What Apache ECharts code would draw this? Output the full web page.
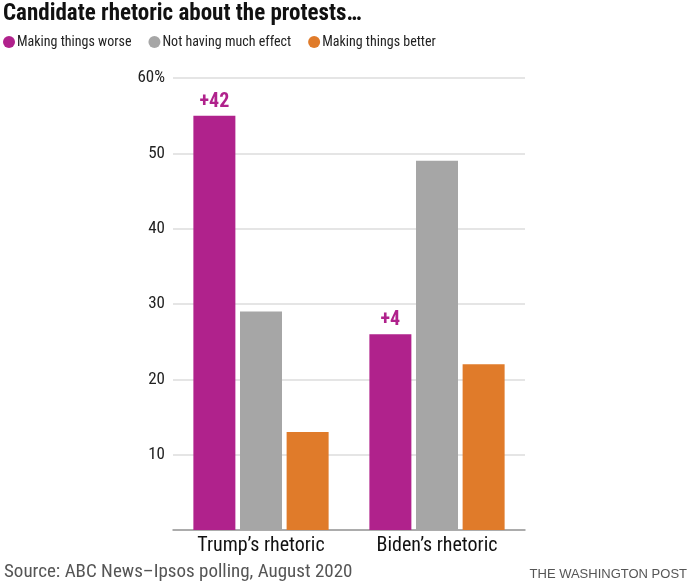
<!DOCTYPE html>
<html><head><meta charset="utf-8">
<script src="https://cdn.jsdelivr.net/npm/echarts@6/dist/echarts.min.js"></script>
<style>html,body{margin:0;padding:0;background:#fff}#c{width:691px;height:584px}</style>
</head><body><div id="c"></div>
<script>
const categories = ["Trump’s rhetoric", "Biden’s rhetoric"];
const seriesNames = ["Making things worse", "Not having much effect", "Making things better"];
const worse = [55, 26];
const noEffect = [29, 49];
const better = [13, 22];
const diffLabels = ["+42", "+4"];
const yTicks = [10, 20, 30, 40, 50, 60];
const colors = ["#B0228C", "#A6A6A6", "#E07B2A"];

const font = "'Roboto Condensed', 'Liberation Sans', sans-serif";
const wide = "'Liberation Sans', sans-serif";
const chart = echarts.init(document.getElementById('c'), null, {renderer: 'canvas'});
chart.setOption({
  animation: false,
  textStyle: {fontFamily: font},
  title: [
    {text: 'Candidate rhetoric about the protests…', left: 3, top: 3, padding: 0,
     textStyle: {fontFamily: font, fontWeight: 'bold', fontSize: 23, color: '#111'}},
    {text: 'Source: ABC News–Ipsos polling, August 2020', left: 4, top: 563, padding: 0,
     textStyle: {fontFamily: font, fontWeight: 'normal', fontSize: 19, color: '#555'}},
    {text: 'THE WASHINGTON POST', right: 4, top: 568, padding: 0,
     textStyle: {fontFamily: wide, fontWeight: 'normal', fontSize: 13, color: '#555'}}
  ],
  legend: {
    left: 3, top: 35, padding: 0, icon: 'circle', itemWidth: 12, itemHeight: 12, itemGap: 17,
    textStyle: {fontFamily: font, fontSize: 14, color: '#222', padding: [0, 0, 0, -3]},
    data: seriesNames
  },
  grid: {left: 173, right: 166, top: 78, bottom: 54},
  xAxis: {
    type: 'category', data: categories,
    axisLine: {lineStyle: {color: '#999', width: 1.5}},
    axisTick: {show: false},
    axisLabel: {fontFamily: font, fontSize: 20, color: '#111', margin: 6, interval: 0}
  },
  yAxis: {
    type: 'value', min: 0, max: 60, interval: 10,
    axisLine: {show: false}, axisTick: {show: false},
    splitLine: {lineStyle: {color: '#dcdcdc', width: 1.5}},
    axisLabel: {fontFamily: font, fontSize: 17, color: '#222', margin: 8,
      formatter: v => yTicks.indexOf(v) < 0 ? '' : (v === 60 ? v + '%' : String(v))}
  },
  series: [
    {name: seriesNames[0], type: 'bar', data: worse, barWidth: 42, barGap: '11%',
     itemStyle: {color: colors[0]},
     label: {show: true, position: 'top', distance: 4, fontFamily: font, fontWeight: 'bold',
       fontSize: 20, color: colors[0], formatter: p => diffLabels[p.dataIndex]}},
    {name: seriesNames[1], type: 'bar', data: noEffect, barWidth: 42, barGap: '11%',
     itemStyle: {color: colors[1]}},
    {name: seriesNames[2], type: 'bar', data: better, barWidth: 42, barGap: '11%',
     itemStyle: {color: colors[2]}}
  ]
});
</script></body></html>
